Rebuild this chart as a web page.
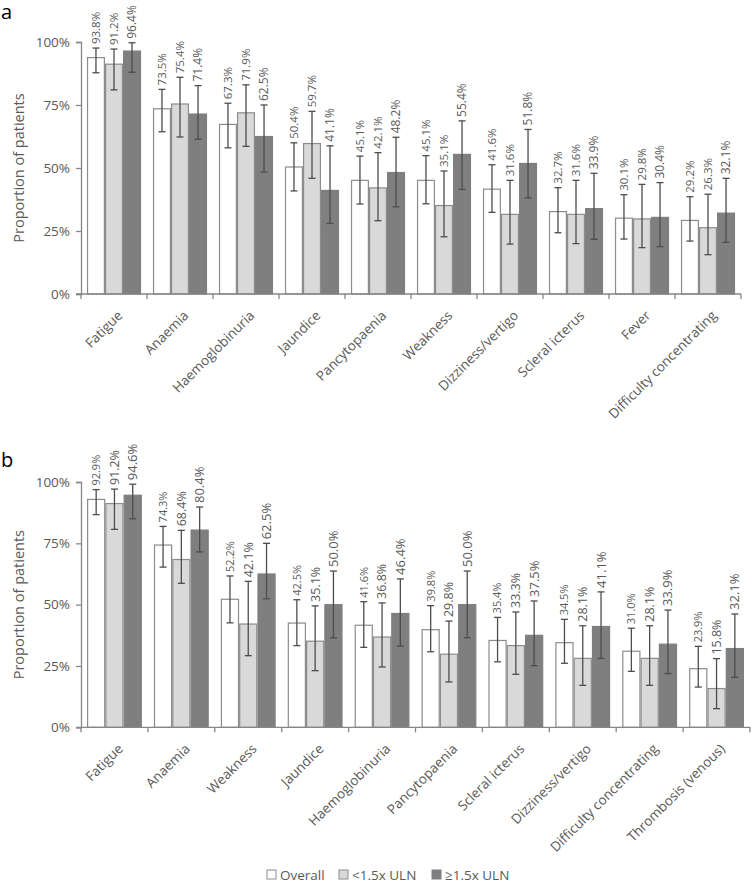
<!DOCTYPE html>
<html>
<head>
<meta charset="utf-8">
<script src="https://cdn.jsdelivr.net/npm/d3@7"></script>
<style>
  body { margin: 0; background: #fff; }
  text { font-family: 'Open Sans', sans-serif; }
</style>
</head>
<body>
<div id="chart"></div>
<script>
// ---- data, panel a ----
const aCategories = ['Fatigue', 'Anaemia', 'Haemoglobinuria', 'Jaundice', 'Pancytopaenia',
  'Weakness', 'Dizziness/vertigo', 'Scleral icterus', 'Fever', 'Difficulty concentrating']
const aOverall = [93.8, 73.5, 67.3, 50.4, 45.1, 45.1, 41.6, 32.7, 30.1, 29.2]
const aOverallLow = [87.8, 64.4, 58.0, 40.9, 35.7, 35.8, 32.4, 24.3, 21.8, 21.0]
const aOverallHigh = [97.6, 81.2, 75.7, 60.0, 54.7, 54.9, 51.3, 42.2, 39.4, 38.6]
const aBelow = [91.2, 75.4, 71.9, 59.7, 42.1, 35.1, 31.6, 31.6, 29.8, 26.3]
const aBelowLow = [81.0, 62.3, 58.6, 45.9, 29.1, 22.7, 19.8, 20.0, 18.4, 15.6]
const aBelowHigh = [97.2, 86.0, 83.0, 72.5, 56.1, 48.8, 45.1, 45.1, 43.5, 39.6]
const aAbove = [96.4, 71.4, 62.5, 41.1, 48.2, 55.4, 51.8, 33.9, 30.4, 32.1]
const aAboveLow = [88.0, 61.4, 48.4, 28.0, 34.6, 41.5, 38.1, 21.7, 18.8, 20.5]
const aAboveHigh = [99.7, 82.7, 75.0, 58.8, 62.2, 68.7, 65.3, 47.9, 44.2, 45.9]

// ---- data, panel b ----
const bCategories = ['Fatigue', 'Anaemia', 'Weakness', 'Jaundice', 'Haemoglobinuria',
  'Pancytopaenia', 'Scleral icterus', 'Dizziness/vertigo', 'Difficulty concentrating', 'Thrombosis (venous)']
const bOverall = [92.9, 74.3, 52.2, 42.5, 41.6, 39.8, 35.4, 34.5, 31.0, 23.9]
const bOverallLow = [86.7, 65.3, 42.6, 33.3, 32.6, 30.8, 26.7, 26.1, 22.8, 16.4]
const bOverallHigh = [96.9, 81.9, 61.7, 52.0, 51.2, 49.6, 44.8, 44.0, 40.4, 33.0]
const bBelow = [91.2, 68.4, 42.1, 35.1, 36.8, 29.8, 33.3, 28.1, 28.1, 15.8]
const bBelowLow = [80.7, 58.7, 29.2, 23.1, 24.6, 18.5, 21.6, 17.1, 17.1, 7.6]
const bBelowHigh = [97.1, 80.3, 59.5, 49.5, 50.7, 43.3, 47.0, 41.4, 41.4, 28.0]
const bAbove = [94.6, 80.4, 62.5, 50.0, 46.4, 50.0, 37.5, 41.1, 33.9, 32.1]
const bAboveLow = [85.0, 71.5, 52.4, 36.5, 33.1, 36.5, 25.1, 28.1, 21.9, 20.4]
const bAboveHigh = [99.1, 89.8, 75.0, 63.7, 60.5, 63.7, 51.5, 55.2, 47.8, 46.2]

const seriesNames = ['Overall', '<1.5x ULN', '≥1.5x ULN']
const yTicks = [0, 25, 50, 75, 100]

// ---- styles ----
const fills = ['#ffffff', '#d9d9d9', '#7f7f7f']
const strokes = ['#8c8c8c', '#8c8c8c', '#7f7f7f']
const textColor = '#595959'
const axisColor = '#868686'
const errColor = '#4d4d4d'

var W = 751
var H = 885

var svg = d3
  .select('#chart')
  .append('svg')
  .attr('width', W)
  .attr('height', H)

function build(cats, vals) {
  return cats.map((c, i) => ({
    category: c,
    items: vals.map((s, k) => ({
      k: k,
      value: s[0][i],
      low: s[1][i],
      high: s[2][i]
    }))
  }))
}

function drawPanel(opts) {
  const rows = build(opts.categories, opts.series)

  const x = d3
    .scaleBand()
    .domain(opts.categories)
    .range([opts.left, opts.right])
    .paddingInner(0.18)
    .paddingOuter(0.09)

  const xSub = d3
    .scaleBand()
    .domain([0, 1, 2])
    .range([0, x.bandwidth()])

  const y = d3
    .scaleLinear()
    .domain([0, 100])
    .range([opts.bottom, opts.top])

  const g = svg.append('g')

  // y axis
  const yAxis = d3
    .axisLeft(y)
    .tickValues(yTicks)
    .tickSize(5)
    .tickPadding(6)
    .tickFormat(d => d + '%')
  const ya = g
    .append('g')
    .attr('transform', 'translate(' + opts.left + ',0)')
    .call(yAxis)
  ya.select('.domain').attr('stroke', axisColor).attr('stroke-width', 1.3)
  ya.selectAll('line').attr('stroke', axisColor).attr('stroke-width', 1.3)
  ya.selectAll('text')
    .attr('fill', textColor)
    .style('font-size', '13.5px')
    .style('font-family', "'Open Sans', sans-serif")

  // y title
  g.append('text')
    .attr('transform', 'translate(24,' + (opts.top + opts.bottom) / 2 + ') rotate(-90)')
    .attr('text-anchor', 'middle')
    .attr('fill', textColor)
    .style('font-size', '14.5px')
    .text('Proportion of patients')

  // bars
  const groups = g
    .selectAll('.grp')
    .data(rows)
    .enter()
    .append('g')
    .attr('transform', d => 'translate(' + x(d.category) + ',0)')

  groups
    .selectAll('rect')
    .data(d => d.items)
    .enter()
    .append('rect')
    .attr('x', d => xSub(d.k) + 0.6)
    .attr('width', xSub.bandwidth() - 1.2)
    .attr('y', d => y(d.value))
    .attr('height', d => y(0) - y(d.value))
    .attr('fill', d => fills[d.k])
    .attr('stroke', d => strokes[d.k])
    .attr('stroke-width', 1.2)

  // error bars
  const err = groups
    .selectAll('.err')
    .data(d => d.items)
    .enter()
    .append('g')
    .attr('transform', d => 'translate(' + (xSub(d.k) + xSub.bandwidth() / 2) + ',0)')
    .attr('stroke', errColor)
    .attr('stroke-width', 1.3)

  err.append('line')
    .attr('y1', d => y(d.low))
    .attr('y2', d => y(d.high))
  err.append('line')
    .attr('x1', -3.5).attr('x2', 3.5)
    .attr('y1', d => y(d.low)).attr('y2', d => y(d.low))
  err.append('line')
    .attr('x1', -3.5).attr('x2', 3.5)
    .attr('y1', d => y(d.high)).attr('y2', d => y(d.high))

  // value labels
  groups
    .selectAll('.lbl')
    .data(d => d.items)
    .enter()
    .append('text')
    .attr('transform', d => 'translate(' + (xSub(d.k) + xSub.bandwidth() / 2) + ',' + (y(d.high) - 4) + ') rotate(-90)')
    .attr('dy', '0.35em')
    .attr('fill', textColor)
    .style('font-size', d => opts.labelSizes[d.k] + 'px')
    .text(d => d.value.toFixed(1) + '%')

  // x axis with ticks at category boundaries
  const bounds = d3.range(opts.categories.length + 1)
    .map(i => opts.left + i * (opts.right - opts.left) / opts.categories.length)
  g.append('line')
    .attr('x1', opts.left - 5).attr('x2', opts.right)
    .attr('y1', y(0)).attr('y2', y(0))
    .attr('stroke', axisColor).attr('stroke-width', 1.3)
  g.selectAll('.xt')
    .data(bounds)
    .enter()
    .append('line')
    .attr('x1', d => d).attr('x2', d => d)
    .attr('y1', y(0)).attr('y2', y(0) + 5)
    .attr('stroke', axisColor).attr('stroke-width', 1.3)

  g.selectAll('.xl')
    .data(opts.categories)
    .enter()
    .append('text')
    .attr('transform', d => 'translate(' + (x(d) + x.bandwidth() / 2 + 6) + ',' + (y(0) + 19) + ') rotate(-45)')
    .attr('text-anchor', 'end')
    .attr('dy', '0.35em')
    .attr('fill', textColor)
    .style('font-size', '13.5px')
    .text(d => d)

  // panel letter
  g.append('text')
    .attr('x', 1)
    .attr('y', opts.letterY)
    .attr('fill', '#000')
    .style('font-size', '20px')
    .text(opts.letter)
}

drawPanel({
  categories: aCategories,
  series: [[aOverall, aOverallLow, aOverallHigh], [aBelow, aBelowLow, aBelowHigh], [aAbove, aAboveLow, aAboveHigh]],
  left: 81, right: 741, top: 42, bottom: 294,
  labelSizes: [11.5, 11.5, 12],
  letter: 'a', letterY: 19
})

drawPanel({
  categories: bCategories,
  series: [[bOverall, bOverallLow, bOverallHigh], [bBelow, bBelowLow, bBelowHigh], [bAbove, bAboveLow, bAboveHigh]],
  left: 81, right: 750, top: 482, bottom: 727.3,
  labelSizes: [11, 12.5, 13],
  letter: 'b', letterY: 467
})

// legend
var legend = svg
  .append('g')
  .attr('transform', 'translate(267,875)')
const legendX = [0, 72, 165]
seriesNames.forEach((name, i) => {
  const item = legend.append('g').attr('transform', 'translate(' + legendX[i] + ',0)')
  item.append('rect')
    .attr('x', 0).attr('y', -5)
    .attr('width', 9).attr('height', 9)
    .attr('fill', fills[i])
    .attr('stroke', strokes[i])
    .attr('stroke-width', 1)
  item.append('text')
    .attr('x', 13)
    .attr('y', 0)
    .attr('dy', '0.35em')
    .attr('fill', textColor)
    .style('font-size', '13.5px')
    .text(name)
})
</script>
</body>
</html>
